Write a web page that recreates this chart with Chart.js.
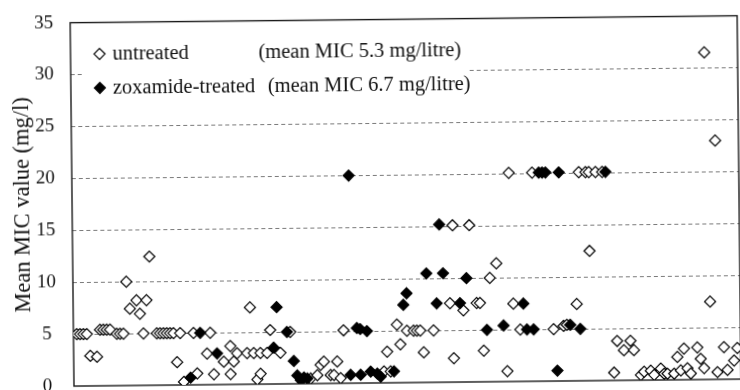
<!DOCTYPE html>
<html>
<head>
<meta charset="utf-8">
<script src="https://cdn.jsdelivr.net/npm/chart.js@4.4.0/dist/chart.umd.min.js"></script>
<style>
    html, body { margin: 0; padding: 0; background: #fff; }
    #frame { width: 740px; height: 390px; overflow: hidden; background: #fff; }
    /* the scanned original sits slightly crooked */
    #tilt { width: 760px; height: 420px; transform: rotate(-0.6deg); transform-origin: 370px 195px; }
</style>
</head>
<body>
<div id="frame"><div id="tilt"><canvas id="micChart" width="760" height="420"></canvas></div></div>
<script>
// isolate position along the x axis and its mean MIC (mg/l)
const untreatedIsolate = [1, 2, 3, 4, 5, 7, 8, 9, 10, 11, 13, 14, 15, 16, 17, 19, 20, 21, 22, 23,
    25, 26, 27, 28, 29, 30, 31, 32, 33, 36, 37, 40, 41, 42, 45, 47, 47, 48, 49, 52,
    53, 54, 55, 56, 56, 58, 59, 62, 65, 71, 73, 74, 75, 77, 78, 79, 80, 81, 93, 94,
    95, 97, 98, 100, 102, 103, 104, 105, 108, 113, 114, 114, 117, 119, 121, 122, 123, 125, 127, 130,
    131, 132, 134, 138, 144, 147, 148, 151, 152, 154, 155, 155, 157, 159, 162, 163, 165, 167, 168, 170,
    171, 173, 174, 176, 177, 178, 180, 181, 182, 183, 184, 185, 187, 188, 189, 190, 191, 193, 193, 195,
    196, 198, 199];
const untreatedMIC = [5.0, 5.0, 5.0, 5.0, 2.9, 2.8, 5.4, 5.4, 5.4, 5.4, 5.0, 5.0, 5.0, 10.0, 7.4, 8.2, 6.9, 5.0, 8.2, 12.4,
    5.0, 5.0, 5.0, 5.0, 5.0, 5.0, 2.2, 5.0, 0.3, 5.0, 1.1, 3.0, 5.0, 1.0, 2.2, 3.7, 1.0, 2.2, 3.0, 3.0,
    7.4, 3.0, 0.45, 3.0, 1.0, 3.0, 5.2, 3.0, 5.0, 0.5, 0.8, 1.8, 2.1, 0.8, 0.8, 2.1, 0.5, 5.1, 1.1, 3.0,
    1.1, 5.6, 3.7, 5.0, 5.0, 5.0, 5.0, 2.9, 5.0, 7.6, 2.3, 15.1, 6.9, 15.1, 7.6, 7.6, 3.0, 10.0, 11.4, 1.0,
    20.1, 7.5, 5.0, 20.1, 5.0, 5.3, 5.4, 7.4, 20.1, 20.1, 20.1, 12.5, 20.1, 20.1, 0.75, 3.8, 2.9, 3.8, 2.9, 0.5,
    0.8, 0.9, 0.5, 1.1, 0.6, 0.6, 0.6, 2.2, 0.9, 3.0, 1.1, 0.6, 3.1, 2.0, 1.1, 31.5, 7.5, 0.7, 23.0, 3.1,
    0.9, 1.8, 3.0];

const treatedIsolate = [35, 38, 43, 60, 61, 64, 66, 67, 68, 69, 70, 83, 83, 85, 86, 86, 88, 89, 91, 92,
    96, 99, 100, 106, 109, 110, 111, 116, 118, 124, 129, 135, 136, 138, 140, 141, 142, 145, 146, 149,
    152, 160];
const treatedMIC = [0.7, 5.0, 3.0, 3.5, 7.4, 5.0, 2.2, 0.8, 0.35, 0.6, 0.5, 20.0, 0.8, 5.3, 5.2, 0.8, 5.0, 1.1, 0.9, 0.6,
    1.1, 7.5, 8.6, 10.5, 7.6, 15.2, 10.5, 7.6, 10.0, 5.0, 5.4, 7.5, 5.0, 5.0, 20.1, 20.1, 20.1, 1.0, 20.1, 5.4,
    5.0, 20.1];

const yTicks = [0, 5, 10, 15, 20, 25, 30, 35];
const legendRows = [
    { name: 'untreated', note: '(mean MIC 5.3 mg/litre)', filled: false },
    { name: 'zoxamide-treated', note: '(mean MIC 6.7 mg/litre)', filled: true }
];

const SERIF = '"Liberation Serif", "Times New Roman", serif';

function toPoints(xs, ys) {
    return xs.map((x, i) => ({ x: x, y: ys[i] }));
}

// box round the plot
const plotFrame = {
    id: 'plotFrame',
    beforeDatasetsDraw(chart) {
        const { ctx, chartArea: a } = chart;
        ctx.save();
        ctx.strokeStyle = '#1a1a1a';
        ctx.lineWidth = 1.4;
        ctx.strokeRect(a.left, a.top, a.right - a.left, a.bottom - a.top);
        ctx.restore();
    }
};

// legend drawn inside the plot on a white patch
const insideLegend = {
    id: 'insideLegend',
    afterDatasetsDraw(chart) {
        const { ctx, chartArea: a } = chart;
        const x0 = a.left + 14;
        ctx.save();
        ctx.fillStyle = '#fff';
        ctx.fillRect(x0, a.top + 16, 385, 82);
        ctx.font = '20.5px ' + SERIF;
        ctx.textBaseline = 'alphabetic';
        legendRows.forEach((row, i) => {
            const y = a.top + 37.5 + i * 34;
            ctx.strokeStyle = '#000';
            ctx.lineWidth = 1.2;
            ctx.fillStyle = row.filled ? '#000' : '#fff';
            Chart.helpers.drawPoint(ctx, { pointStyle: 'rectRot', radius: 5.5, rotation: 0, borderWidth: 1.2 }, x0 + 15, y - 6);
            ctx.fillStyle = '#111';
            ctx.fillText(row.name, x0 + 28, y);
            ctx.fillText(row.note, x0 + (row.filled ? 183 : 174), y);
        });
        ctx.restore();
    }
};

new Chart(document.getElementById('micChart'), {
    type: 'scatter',
    data: {
        datasets: [{
            label: 'zoxamide-treated',
            data: toPoints(treatedIsolate, treatedMIC),
            pointStyle: 'rectRot',
            radius: 5.5,
            borderWidth: 1.2,
            borderColor: '#000',
            backgroundColor: '#000'
        }, {
            label: 'untreated',
            data: toPoints(untreatedIsolate, untreatedMIC),
            pointStyle: 'rectRot',
            radius: 5.5,
            borderWidth: 1.2,
            borderColor: '#000',
            backgroundColor: '#fff'
        }]
    },
    options: {
        responsive: false,
        animation: false,
        events: [],
        layout: { padding: { top: 19.6, right: 21, bottom: 37, left: 0 } },
        plugins: {
            legend: { display: false },
            tooltip: { enabled: false }
        },
        scales: {
            x: {
                type: 'linear',
                min: 0,
                max: 200,
                grid: { display: false },
                ticks: { display: false },
                border: { display: false },
                afterFit: (scale) => { scale.height = 0; }
            },
            y: {
                min: 0,
                max: 35,
                afterBuildTicks: (scale) => { scale.ticks = yTicks.map(v => ({ value: v })); },
                ticks: {
                    color: '#111',
                    padding: 17,
                    crossAlign: 'center',
                    font: { family: SERIF, size: 19 }
                },
                grid: {
                    drawTicks: false,
                    lineWidth: 1,
                    color: (c) => (c.tick.value > 0 && c.tick.value < 35) ? '#7a7a7a' : 'rgba(0,0,0,0)'
                },
                border: { display: false, dash: [4, 3] },
                title: {
                    display: true,
                    text: 'Mean MIC value (mg/l)',
                    color: '#111',
                    font: { family: SERIF, size: 22.5 },
                    padding: { top: 10, bottom: 0 }
                },
                afterFit: (scale) => {
                    scale.width = 72;
                    // keep the tick padding from pushing the plot top down
                    scale.paddingTop = 0;
                    scale.paddingBottom = 0;
                }
            }
        }
    },
    plugins: [plotFrame, insideLegend]
});
</script>
</body>
</html>
